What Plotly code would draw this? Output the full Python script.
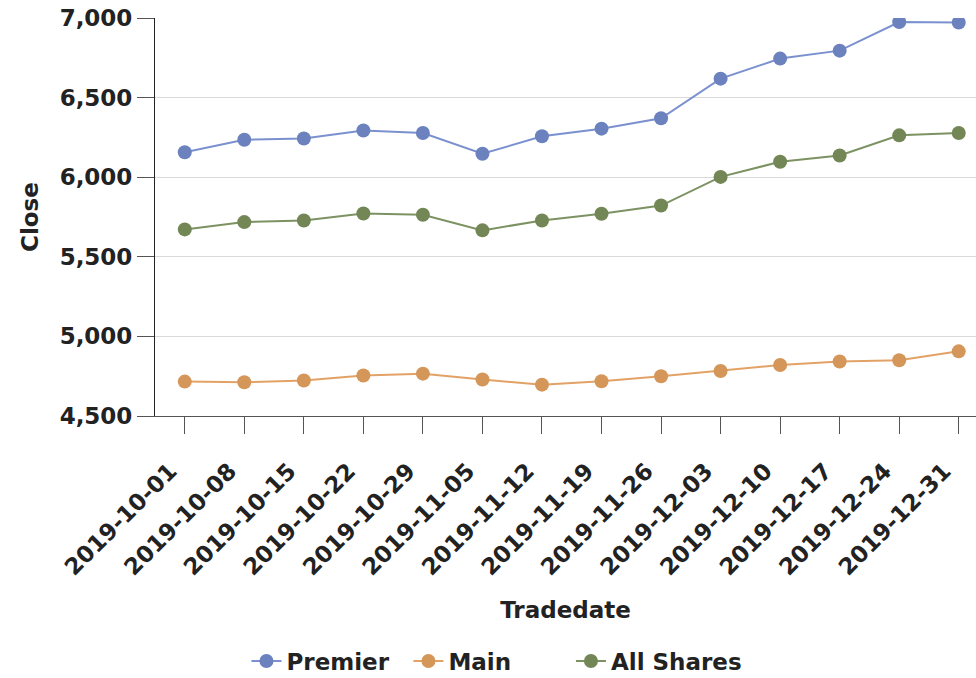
import plotly.graph_objects as go

dates = ["2019-10-01", "2019-10-08", "2019-10-15", "2019-10-22", "2019-10-29",
         "2019-11-05", "2019-11-12", "2019-11-19", "2019-11-26", "2019-12-03",
         "2019-12-10", "2019-12-17", "2019-12-24", "2019-12-31"]

premier = [6157, 6235, 6243, 6293, 6278, 6147, 6257, 6305, 6370, 6619, 6745, 6795, 6975, 6972]
main = [4716, 4712, 4723, 4754, 4766, 4729, 4697, 4718, 4750, 4783, 4820, 4842, 4850, 4906]
all_shares = [5672, 5718, 5728, 5772, 5764, 5666, 5728, 5770, 5822, 6002, 6097, 6136, 6263, 6278]

y_ticks = [4500, 5000, 5500, 6000, 6500, 7000]

FONT = "DejaVu Sans"

series = [
    ("Premier", premier, "#7b91cf", "#6c82bf", "legend"),
    ("Main", main, "#e2a266", "#d5965a", "legend"),
    ("All Shares", all_shares, "#7d9262", "#728755", "legend2"),
]

fig = go.Figure()
for name, vals, lc, mc, lg in series:
    fig.add_trace(go.Scatter(
        x=dates, y=vals, name=name, mode="lines+markers",
        line=dict(color=lc, width=2),
        marker=dict(color=mc, size=14, line=dict(width=0)),
        legend=lg,
    ))

# trailing spaces push the angled labels slightly down-left from the ticks
tick_text = [d + "\u00a0\u00a0\u2009" for d in dates]

legend_font = dict(family=FONT, size=23, color="#222222", weight="bold")

fig.update_layout(
    width=976, height=678,
    margin=dict(l=155, r=0, t=18, b=262),
    paper_bgcolor="white", plot_bgcolor="white",
    font=dict(family=FONT, size=23, color="#222222"),
    showlegend=True,
    legend=dict(
        orientation="h", xref="container", yref="container",
        x=0.2525, xanchor="left", y=0.025, yanchor="middle",
        entrywidth=117, entrywidthmode="pixels",
        font=legend_font, traceorder="normal",
    ),
    legend2=dict(
        orientation="h", xref="container", yref="container",
        x=0.585, xanchor="left", y=0.025, yanchor="middle",
        font=legend_font, traceorder="normal",
    ),
    xaxis=dict(
        type="category", range=[-0.5, 13.29],
        tickvals=dates, ticktext=tick_text,
        showgrid=False, showline=True, linecolor="#555555", linewidth=1,
        ticks="outside", ticklen=17, tickcolor="#555555",
        tickangle=-45,
        tickfont=dict(family=FONT, size=23, color="#222222", weight="bold"),
        title=dict(text="<b>Tradedate</b>", standoff=22,
                   font=dict(family=FONT, size=23, color="#222222")),
    ),
    yaxis=dict(
        range=[4500, 7000], tickvals=y_ticks,
        tickformat=",d",
        showgrid=True, gridcolor="#d9d9d9", gridwidth=1,
        showline=True, linecolor="#222222", linewidth=1,
        ticks="outside", ticklen=17, tickcolor="#555555",
        tickfont=dict(family=FONT, size=23, color="#222222", weight="bold"),
        title=dict(text="<b>Close</b>", standoff=14,
                   font=dict(family=FONT, size=23, color="#222222")),
        zeroline=False,
    ),
)

fig.write_html("out.html", config={"displayModeBar": False},
               post_script="document.body.style.margin='0px';")
